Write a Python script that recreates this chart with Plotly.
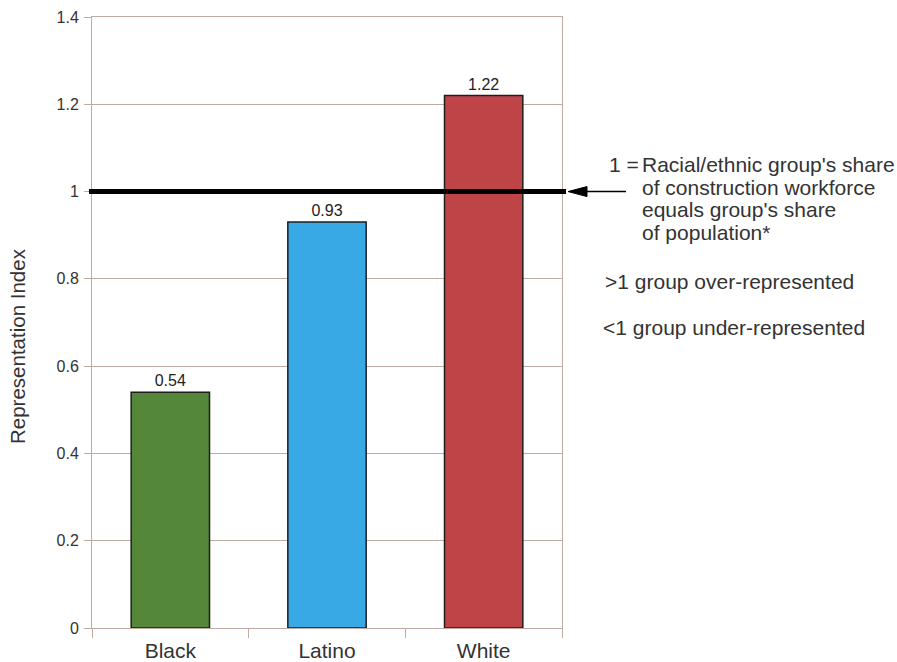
import plotly.graph_objects as go

categories = ["Black", "Latino", "White"]
values = [0.54, 0.93, 1.22]
bar_colors = ["#55873a", "#38a9e4", "#be4448"]
y_ticks = [0, 0.2, 0.4, 0.6, 0.8, 1, 1.2, 1.4]
y_tick_labels = ["0", "0.2", "0.4", "0.6", "0.8", "1", "1.2", "1.4"]
reference_value = 1
note_lines = ["Racial/ethnic group's share", "of construction workforce",
              "equals group's share", "of population*"]
note_prefix = "1 ="
over_text = ">1 group over-represented"
under_text = "<1 group under-represented"

FONT = "Liberation Sans, Arial, sans-serif"
GRID = "#bfaaa4"
TXT = "#333333"

W, H = 897, 662
L, R, T, B = 92, 562, 17, 628
pw, ph = R - L, B - T

def px_x(x):
    return (x - L) / pw

def px_y(y):
    return (B - y) / ph

fig = go.Figure()
fig.add_trace(go.Bar(
    x=categories, y=values,
    marker=dict(color=bar_colors, line=dict(color="#1e1e1e", width=1.5)),
    width=0.5,
    text=[f"{v:.2f}" for v in values],
    textposition="outside",
    textfont=dict(family=FONT, size=16, color="#222222"),
    cliponaxis=False,
))

shapes = [
    dict(type="line", xref="paper", yref="y", x0=px_x(89), x1=px_x(566),
         y0=reference_value, y1=reference_value,
         line=dict(color="black", width=5), layer="above"),
    dict(type="path", xref="paper", yref="y", xsizemode="pixel", ysizemode="pixel",
         xanchor=1, yanchor=reference_value,
         path="M 6 0 L 25 5 L 25 -5 Z", fillcolor="black",
         line=dict(color="black", width=1), layer="above"),
    dict(type="line", xref="paper", yref="y", x0=px_x(585), x1=px_x(626),
         y0=reference_value, y1=reference_value,
         line=dict(color="black", width=1.5), layer="above"),
]

FS = 21
annotations = [
    dict(text="Representation Index", textangle=-90, xref="paper", yref="paper",
         x=px_x(17), y=px_y(346), xanchor="center", yanchor="middle",
         showarrow=False, font=dict(family=FONT, size=20.5, color=TXT)),
    dict(text=note_prefix, xref="paper", yref="paper", x=px_x(607), y=px_y(165),
         xanchor="left", yanchor="middle", showarrow=False,
         font=dict(family=FONT, size=FS, color=TXT)),
]
for i, line in enumerate(note_lines):
    annotations.append(dict(text=line, xref="paper", yref="paper",
                            x=px_x(640), y=px_y(165 + 22.5 * i),
                            xanchor="left", yanchor="middle", showarrow=False,
                            font=dict(family=FONT, size=FS, color=TXT)))
annotations.append(dict(text=over_text, xref="paper", yref="paper", x=px_x(603),
                        y=px_y(281.5), xanchor="left", yanchor="middle",
                        showarrow=False, font=dict(family=FONT, size=FS, color=TXT)))
annotations.append(dict(text=under_text, xref="paper", yref="paper", x=px_x(601),
                        y=px_y(327.5), xanchor="left", yanchor="middle",
                        showarrow=False, font=dict(family=FONT, size=FS, color=TXT)))

fig.update_layout(
    width=W, height=H,
    margin=dict(l=L, r=W - R, t=T, b=H - B, pad=0, autoexpand=False),
    paper_bgcolor="white", plot_bgcolor="white",
    showlegend=False,
    shapes=shapes, annotations=annotations,
    font=dict(family=FONT, color=TXT),
)
fig.update_xaxes(
    showline=True, linecolor=GRID, linewidth=1, mirror=True,
    ticks="outside", tickson="boundaries", ticklen=9, tickcolor=GRID,
    tickfont=dict(family=FONT, size=21, color=TXT),
    ticklabelstandoff=4, automargin=False,
    showgrid=False,
)
fig.update_yaxes(
    range=[0, 1.4], tickvals=y_ticks, ticktext=y_tick_labels,
    showline=True, linecolor=GRID, linewidth=1, mirror=True,
    ticks="outside", ticklen=7, tickcolor=GRID,
    showgrid=True, gridcolor=GRID, gridwidth=1, zeroline=False,
    tickfont=dict(family=FONT, size=16, color=TXT),
    ticklabelstandoff=2, automargin=False,
)

fig.write_html("out.html")
